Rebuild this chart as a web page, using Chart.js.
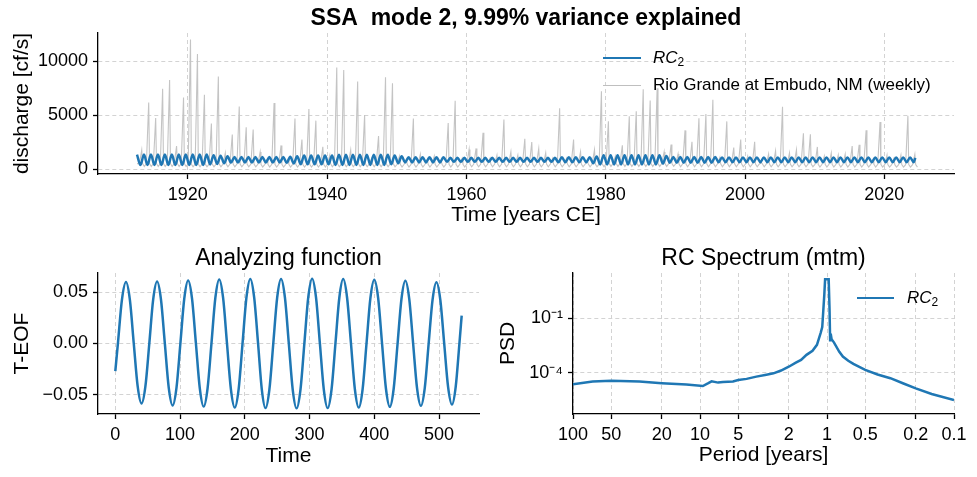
<!DOCTYPE html>
<html><head><meta charset="utf-8">
<script src="https://cdn.jsdelivr.net/npm/chart.js@4.4.0/dist/chart.umd.min.js"></script>
<style>
html,body{margin:0;padding:0;background:#fff;}
body{width:977px;height:477px;position:relative;overflow:hidden;font-family:'Liberation Sans',Arial,Helvetica,sans-serif;}
canvas{position:absolute;}
.lg{position:absolute;font-size:17px;line-height:20px;height:20px;color:#000;white-space:nowrap;}
.ln{position:absolute;height:0;}
</style></head><body>
<canvas id="c1" width="977" height="235" style="left:0;top:0;width:977px;height:235px"></canvas>
<canvas id="c2" width="490" height="237" style="left:0;top:240px;width:490px;height:237px"></canvas>
<canvas id="c3" width="487" height="237" style="left:490px;top:240px;width:487px;height:237px"></canvas>

<div class="ln" style="left:603px;top:57px;width:38px;border-top:2.5px solid #1f77b4"></div>
<div class="lg" style="left:653px;top:48px"><i>RC</i><sub style="font-size:12px;vertical-align:-3px">2</sub></div>
<div class="ln" style="left:603px;top:84.5px;width:38px;border-top:1px solid #bfbfbf"></div>
<div class="lg" style="left:653px;top:75px">Rio Grande at Embudo, NM (weekly)</div>

<div class="ln" style="left:857px;top:297px;width:37px;border-top:2.5px solid #1f77b4"></div>
<div class="lg" style="left:907px;top:288px"><i>RC</i><sub style="font-size:12px;vertical-align:-3px">2</sub></div>

<script>
// ---------------- data ----------------
const FIRST_YEAR = 1913;
// annual peak of weekly discharge [cf/s], 1913..2024
const annualPeak = [
 1770,6170,4740,7430,8250,2140,6630,11980,10640,6880,
 4220,8560,1500,3210,5800,3880,3670,1590,900,6110,
 2200,900,4680,2750,5560,4490,2080,1300,9410,9170,
 1770,8100,5010,1000,3060,8500,7950,1200,900,4680,
 1380,900,1200,700,4280,6330,1000,1830,1920,3360,
 1000,1300,4600,1600,1300,2810,2510,1900,1500,1000,
 5640,1000,2750,1600,700,1800,7200,4430,1200,2220,
 4900,5350,7400,6360,7490,1600,2290,1400,3590,2540,
 4700,5100,6420,1100,4420,2000,2750,1200,2540,600,
 1400,1700,5780,1500,1800,3330,3240,2060,1200,1500,
 1300,1400,2140,2260,3600,900,4370,1300,1000,1300,
 4950,1380];
// typical winter flow and late-summer low per decade (1910s..2020s)
const winterFlow = [520,480,450,500,460,480,480,520,500,480,450,420];
const summerLow  = [250,220,200,230,200,230,230,260,230,230,200,190];
// RC2 annual maxima (1913..2023) and minima (1913..2024)
const rcPeak = [
 1350,1350,1350,1350,1350,1350,1350,1350,1350,1350,
 1300,1250,1190,1130,1130,1130,1130,1130,1130,1130,
 1130,1150,1200,1270,1270,1270,1270,1270,1340,1340,
 1340,1340,1340,1340,1340,1340,1270,1190,1110,1110,
 1110,1110,1110,1110,1050,1050,1050,1050,1050,1050,
 1050,1050,1050,1050,1050,1050,1050,1050,1050,1050,
 1100,1100,1100,1100,1100,1180,1300,1300,1300,1300,
 1300,1300,1300,1300,1300,1220,1140,1140,1140,1140,
 1140,1140,1140,1090,1090,1090,1090,1090,1090,1090,
 1090,1090,1090,1090,1090,1090,1090,1090,1090,1090,
 1090,1090,1090,1090,1090,1090,1090,1090,1090,1090,
 1090];
const rcTrough = [
 390,390,390,390,390,390,390,390,390,390,
 440,490,550,610,610,610,610,610,610,610,
 610,590,540,470,470,470,470,470,400,400,
 400,400,400,400,400,400,470,550,630,630,
 630,630,630,630,690,690,690,690,690,690,
 690,690,690,690,690,690,690,690,690,690,
 640,640,640,640,640,560,440,440,440,440,
 440,440,440,440,440,520,600,600,600,600,
 600,600,600,650,650,650,650,650,650,650,
 650,650,650,650,650,650,650,650,650,650,
 650,650,650,650,650,650,650,650,650,650,
 650,650];
const rcStart = {x:1912.7, y:1350};
const rcEnd = {x:2024.45, y:1050};
const topXTicks = [1920,1940,1960,1980,2000,2020];
const topYTicks = [0,5000,10000];

// Analyzing function (T-EOF)
const tefTime = [0,4,10.2,16.5,22.5,28.5,34.5,40.5,46.5,52.5,58.5,64.5,70.5,76.5,82.5,88.5,94.5,
 100.5,106.5,112.5,118.5,124.5,130.5,136.5,142.5,148.5,154.5,160.5,166.5,172.5,178.5,184.5,190.5,
 196.5,202.5,208.5,214.5,220.5,226.25,232,238,244,250,256,262,268,274,280,286,292,298,304,310,
 316,322,328,334,340,346,352,358,364,370,376,382,388,394,400,406,412,418,424,430,436,442,448,454,
 460,466,472,478,484,490,496,502,508,514,520,525.75,531.5,535];
const tefValue = [-0.027,0,0.0425,0.0599,0.0425,0,-0.0416,-0.0586,-0.0416,0,0.0430,0.0605,0.0430,0,-0.0430,-0.0605,-0.0430,
 0,0.0437,0.0615,0.0437,0,-0.0437,-0.0615,-0.0437,0,0.0444,0.0625,0.0444,0,-0.0444,-0.0625,-0.0444,
 0,0.0447,0.0630,0.0447,0,-0.0447,-0.0630,-0.0447,0,0.0447,0.0630,0.0447,0,-0.0449,-0.0632,-0.0449,0,0.0449,0.0632,0.0449,
 0,-0.0447,-0.0630,-0.0447,0,0.0446,0.0628,0.0446,0,-0.0444,-0.0625,-0.0444,0,0.0442,0.0622,0.0442,0,-0.0439,-0.0618,-0.0439,0,0.0435,0.0612,0.0435,
 0,-0.0432,-0.0608,-0.0432,0,0.0425,0.0598,0.0425,0,-0.0423,-0.0596,-0.0423,0,0.0272];
const afXTicks = [0,100,200,300,400,500];
const afYTicks = [-0.05,0,0.05];

// RC spectrum (mtm)
const spPeriod = [100,70,50,30,20,12.8,9.5,8.6,8.1,7.2,6.6,5.5,5,4.3,3.6,3.0,2.64,2.3,2.0,1.76,
 1.6,1.45,1.3,1.2,1.12,1.09,1.05,1.035,0.97,0.955,0.945,0.935,0.92,0.88,0.8,0.75,0.68,0.62,0.5,0.4,
 0.317,0.25,0.2,0.15,0.1];
const spPSD = [2.3e-5,3.2e-5,3.6e-5,3.2e-5,2.6e-5,2.2e-5,1.8e-5,2.6e-5,3.3e-5,2.8e-5,3.0e-5,3.2e-5,
 3.9e-5,4.5e-5,6.0e-5,7.6e-5,9.1e-5,1.3e-4,2.1e-4,3.5e-4,5e-4,9.5e-4,1.6e-3,3.4e-3,1.6e-2,3.2e-2,
 2.0,14,14,0.3,6e-3,1.4e-2,7e-3,4.5e-3,1.4e-3,7.6e-4,4.5e-4,3e-4,1.4e-4,7.9e-5,4.9e-5,2.5e-5,
 1.35e-5,6.6e-6,3.1e-6];
const spXTicks = [100,50,20,10,5,2,1,0.5,0.2,0.1];
const spYTicks = [1e-4,1e-1];
const spYLabels = {'0.0001':'10\u207B\u2074','0.1':'10\u207B\u00B9'};

// ---------------- helpers ----------------
const FONT = "'Liberation Sans', Arial, Helvetica, sans-serif";
const BLUE = '#1f77b4';
Chart.defaults.font.family = FONT;
Chart.defaults.color = '#000';

function axis(extra, titleText, titlePad, fitSize, isX){
  const base = {
    border:{display:true,color:'#000',width:1.3,dash:[4,3]},
    grid:{color:'#d3d3d3',lineWidth:1,drawTicks:true,tickLength:5,tickColor:'#000',tickWidth:1.3,tickBorderDash:[]},
    ticks:{color:'#000',font:{family:FONT,size:18},padding:5,autoSkip:false,maxRotation:0,minRotation:0},
    title:{display:true,text:titleText,color:'#000',font:{family:FONT,size:21},padding:titlePad},
    afterFit: s => { if (isX) s.height = fitSize; else s.width = fitSize; }
  };
  return Object.assign(base, extra);
}
function titlePlugin(text, font, y){
  return {id:'ttl'+Math.random().toString(36).slice(2), afterDraw(chart){
    const ctx = chart.ctx, a = chart.chartArea;
    ctx.save(); ctx.font = font; ctx.fillStyle = '#000';
    ctx.textAlign = 'center'; ctx.textBaseline = 'middle';
    ctx.fillText(text, (a.left + a.right) / 2, y); ctx.restore();
  }};
}
const basePlugins = {legend:{display:false}, tooltip:{enabled:false}};

// ---------------- chart 1 ----------------
const grayPts = [{x:1912.7, y:winterFlow[0]}];
annualPeak.forEach((p, i) => {
  const yr = FIRST_YEAR + i, d = Math.floor((yr - 1910) / 10);
  grayPts.push({x:yr + 0.05, y:winterFlow[d]}, {x:yr + 0.38, y:p},
               {x:yr + 0.5, y:winterFlow[d]}, {x:yr + 0.75, y:summerLow[d]});
});
const rcPts = [rcStart];
rcTrough.forEach((t, i) => {
  const yr = FIRST_YEAR + i;
  rcPts.push({x:yr + 0.2, y:t});
  if (i < rcPeak.length) rcPts.push({x:yr + 0.7, y:rcPeak[i]});
});
rcPts.push(rcEnd);

new Chart(document.getElementById('c1'), {
  type:'line',
  data:{datasets:[
    {label:'RC2', data:rcPts, borderColor:BLUE, borderWidth:2.5, pointRadius:0, cubicInterpolationMode:'monotone', order:0},
    {label:'Rio Grande at Embudo, NM (weekly)', data:grayPts, borderColor:'#c4c4c4', borderWidth:1.1, pointRadius:0, tension:0, order:1}
  ]},
  options:{
    responsive:false, animation:false, events:[],
    layout:{padding:{top:33,right:23,left:0,bottom:0}},
    plugins:basePlugins,
    scales:{
      x: axis({type:'linear', min:1907.1, max:2030.0,
        afterBuildTicks: s => { s.ticks = topXTicks.map(v => ({value:v})); },
        ticks:{color:'#000',font:{family:FONT,size:18},padding:5,autoSkip:false,maxRotation:0,callback:v => String(v)}
      }, 'Time [years CE]', {top:0,bottom:7}, 61, true),
      y: axis({type:'linear', min:-442, max:12592,
        afterBuildTicks: s => { s.ticks = topYTicks.map(v => ({value:v})); },
        ticks:{color:'#000',font:{family:FONT,size:18},padding:5,autoSkip:false,callback:v => String(v)}
      }, 'discharge [cf/s]', {top:10,bottom:0}, 98, false)
    }
  },
  plugins:[titlePlugin('SSA  mode 2, 9.99% variance explained', 'bold 23px ' + FONT, 19)]
});

// ---------------- chart 2 ----------------
new Chart(document.getElementById('c2'), {
  type:'line',
  data:{datasets:[{data:tefTime.map((t, i) => ({x:t, y:tefValue[i]})), borderColor:BLUE, borderWidth:2.5, pointRadius:0, cubicInterpolationMode:'monotone'}]},
  options:{
    responsive:false, animation:false, events:[],
    layout:{padding:{top:33,right:11,left:0,bottom:0}},
    plugins:basePlugins,
    scales:{
      x: axis({type:'linear', min:-26.75, max:561.75,
        afterBuildTicks: s => { s.ticks = afXTicks.map(v => ({value:v})); },
        ticks:{color:'#000',font:{family:FONT,size:18},padding:5,autoSkip:false,maxRotation:0,callback:v => String(v)}
      }, 'Time', {top:0,bottom:8}, 63, true),
      y: axis({type:'linear', min:-0.06875, max:0.06875,
        afterBuildTicks: s => { s.ticks = afYTicks.map(v => ({value:v})); },
        ticks:{color:'#000',font:{family:FONT,size:18},padding:5,autoSkip:false,callback:v => v.toFixed(2).replace('-', '\u2212')}
      }, 'T-EOF', {top:10,bottom:0}, 98, false)
    }
  },
  plugins:[titlePlugin('Analyzing function', '23px ' + FONT, 18.5)]
});

// ---------------- chart 3 ----------------
new Chart(document.getElementById('c3'), {
  type:'line',
  data:{datasets:[{data:spPeriod.map((p, i) => ({x:p, y:spPSD[i]})), borderColor:BLUE, borderWidth:2.5, pointRadius:0, tension:0}]},
  options:{
    responsive:false, animation:false, events:[],
    layout:{padding:{top:33,right:23,left:0,bottom:0}},
    plugins:basePlugins,
    scales:{
      x: axis({type:'logarithmic', min:0.1, max:100, reverse:true,
        afterBuildTicks: s => { s.ticks = spXTicks.map(v => ({value:v})); },
        ticks:{color:'#000',font:{family:FONT,size:18},padding:5,autoSkip:false,maxRotation:0,callback:v => String(v)}
      }, 'Period [years]', {top:0,bottom:9}, 63, true),
      y: axis({type:'logarithmic', min:5.2e-7, max:31,
        afterBuildTicks: s => { s.ticks = spYTicks.map(v => ({value:v})); },
        ticks:{color:'#000',font:{family:FONT,size:18},padding:5,autoSkip:false,callback:v => spYLabels[String(v)] || ''}
      }, 'PSD', {top:6,bottom:0}, 83, false)
    }
  },
  plugins:[titlePlugin('RC Spectrum (mtm)', '23px ' + FONT, 18.5)]
});
</script>
</body></html>
